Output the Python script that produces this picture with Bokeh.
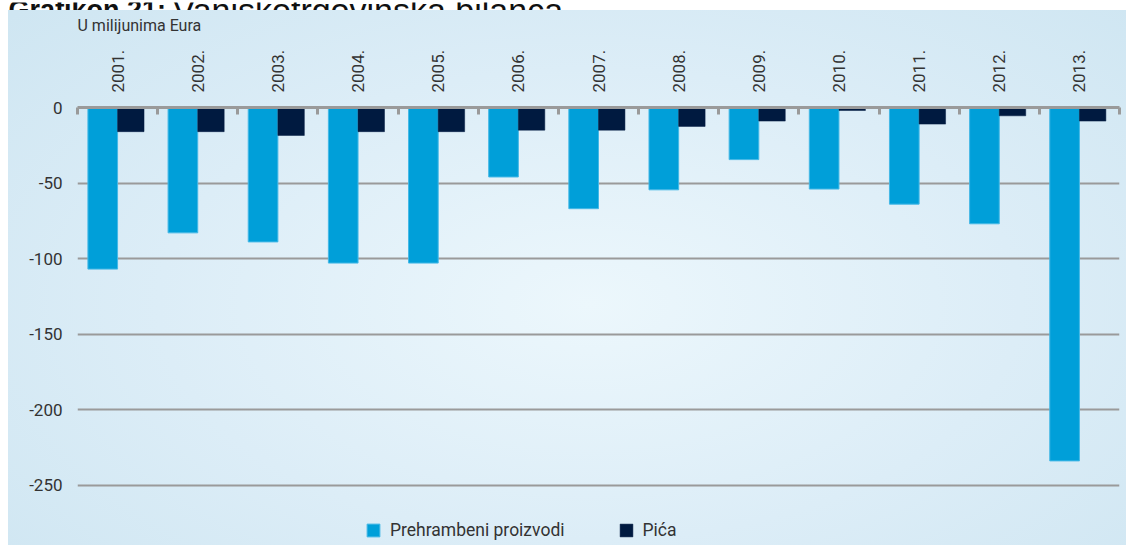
from bokeh.plotting import figure
from bokeh.models import Range1d, FixedTicker, Legend, LegendItem, Spacer
from bokeh.layouts import column, row
from bokeh.core.properties import value
from bokeh.embed import file_html
from bokeh.resources import INLINE

# ---- data ----
years = ["2001.", "2002.", "2003.", "2004.", "2005.", "2006.", "2007.",
         "2008.", "2009.", "2010.", "2011.", "2012.", "2013."]
food = [-107, -83, -89, -103, -103, -46, -67, -54.5, -34.5, -54, -64, -77, -234]
drinks = [-16, -16, -18.5, -16, -16, -15, -15, -12.5, -9, -2, -11, -5.5, -9]
y_ticks = [0, -50, -100, -150, -200, -250]
series_names = ["Prehrambeni proizvodi", "Pića"]
unit_label = "U milijunima Eura"
chart_title_bold = "Grafikon 21:"
chart_title_rest = "Vanjskotrgovinska bilanca"

FONT = "Roboto"
TXT = "#333333"
GRID = "#9a9a9a"
C_FOOD = "#009fd9"
C_DRINK = "#001a40"
BG_CSS = "radial-gradient(ellipse 70% 80% at 52% 55%, #ecf7fc 0%, #dcedf7 55%, #cfe6f2 100%)"

n = len(years)
centers = [i + 0.5 for i in range(n)]
bounds = list(range(n + 1))
w_food, w_drink = 0.37, 0.33


def strip(w, h, fill):
    f = figure(width=w, height=h, x_range=Range1d(0, w), y_range=Range1d(0, h),
               x_axis_location=None, y_axis_location=None,
               output_backend="svg", toolbar_location=None,
               min_border=0, min_border_left=0, min_border_right=0,
               min_border_top=0, min_border_bottom=0,
               border_fill_color=fill, background_fill_color=fill)
    f.grid.visible = False
    f.outline_line_color = None
    return f


# ---- strip with the (cropped) page heading ----
head = strip(1126, 10, "white")
head.text(x=[8], y=[3], text=[chart_title_bold], text_font=value("Liberation Sans"),
          text_font_style="bold", text_font_size="27px", text_color="#111111",
          text_baseline="alphabetic")
head.text(x=[172], y=[3], text=[chart_title_rest], text_font=value("Liberation Sans"),
          text_font_size="34px", text_color="#111111", text_baseline="alphabetic")

# ---- strip with the unit note (its frame lines up with the chart's frame) ----
unit = strip(1118, 30, None)
unit.text(x=[0], y=[15], text=[unit_label], text_font=value(FONT),
          text_font_size="16px", text_color=TXT, text_baseline="middle")

# ---- main chart ----
p = figure(width=1118, height=505,
           x_range=Range1d(0, n), y_range=Range1d(-290, 0),
           x_axis_location="above",
           output_backend="svg", toolbar_location=None,
           min_border_left=69, min_border_right=7,
           min_border_top=67, min_border_bottom=0)

p.background_fill_color = None
p.border_fill_color = None
p.outline_line_color = None

r1 = p.vbar(x=[c - w_food / 2 for c in centers], width=w_food, top=0, bottom=food,
            fill_color=C_FOOD, line_color="#45b8e6", line_width=1)
r2 = p.vbar(x=[c + w_drink / 2 for c in centers], width=w_drink, top=0, bottom=drinks,
            fill_color=C_DRINK, line_color=C_DRINK, line_width=0.5)

xa = p.xaxis[0]
xa.ticker = FixedTicker(ticks=centers, minor_ticks=bounds)
xa.major_label_overrides = {c: y for c, y in zip(centers, years)}
xa.major_label_orientation = "vertical"
xa.major_label_standoff = 15
xa.major_label_text_font = FONT
xa.major_label_text_font_size = "17px"
xa.major_label_text_color = TXT
xa.major_tick_in = 0
xa.major_tick_out = 0
xa.minor_tick_in = 7
xa.minor_tick_out = 0
xa.minor_tick_line_color = GRID
xa.minor_tick_line_width = 3
xa.axis_line_color = GRID
xa.axis_line_width = 3

ya = p.yaxis[0]
ya.ticker = FixedTicker(ticks=y_ticks)
ya.major_label_overrides = {v: str(v) for v in y_ticks}
ya.axis_line_color = None
ya.major_tick_in = 0
ya.major_tick_out = 0
ya.minor_tick_in = 0
ya.minor_tick_out = 0
ya.major_label_standoff = 15
ya.major_label_text_font = FONT
ya.major_label_text_font_size = "17px"
ya.major_label_text_color = TXT

p.xgrid.grid_line_color = None
p.ygrid.ticker = FixedTicker(ticks=y_ticks)
p.ygrid.grid_line_color = GRID
p.ygrid.grid_line_width = 2

legend = Legend(items=[LegendItem(label=series_names[0], renderers=[r1]),
                       LegendItem(label=series_names[1], renderers=[r2])],
                orientation="horizontal", location=(288, 5),
                padding=0, margin=0, spacing=53, label_standoff=9,
                glyph_width=16, glyph_height=16, label_height=16,
                border_line_color=None, background_fill_alpha=0,
                label_text_font=FONT, label_text_font_size="17.5px",
                label_text_color=TXT)
p.add_layout(legend, "center")

panel = column(unit, p, spacing=0, styles={"background": BG_CSS})
layout = column(head, row(Spacer(width=8, height=535), panel, spacing=0), spacing=0)

open("out.html", "w").write(file_html(layout, INLINE))
